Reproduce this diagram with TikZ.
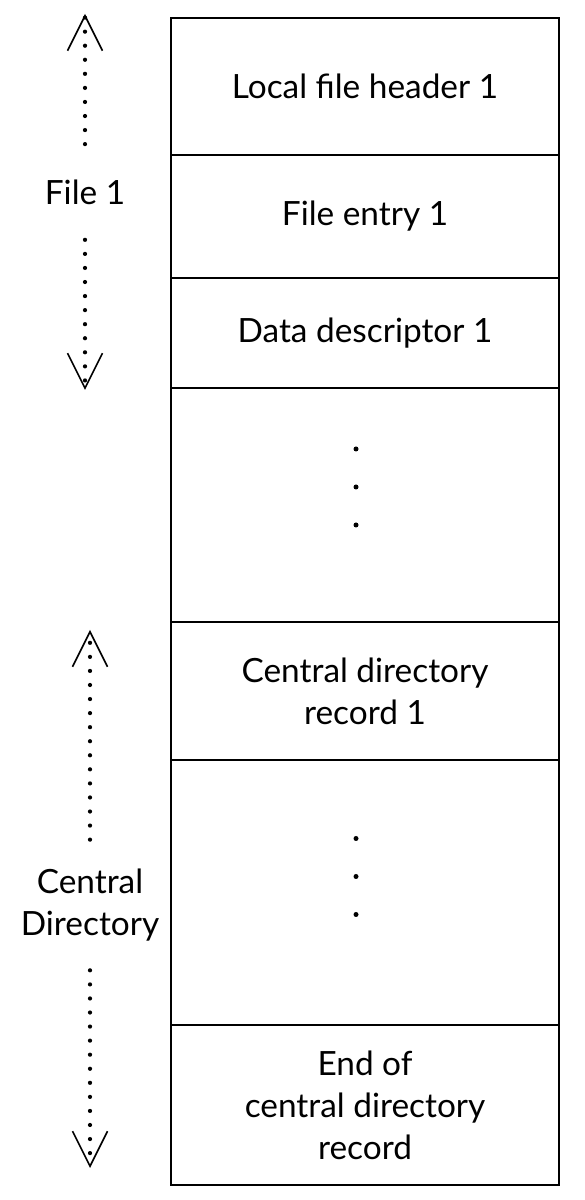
\documentclass[tikz,border=0pt]{standalone}
\usepackage{fontspec}
\setmainfont{Lato}
\usepackage{tikz}
\usetikzlibrary{arrows.meta,positioning,calc}
\tikzset{every node/.append style={align=center}}

\begin{document}
\begin{tikzpicture}[
    row/.style={draw, line width=1pt, minimum width=7.76cm, outer sep=0pt, font=\fontsize{19}{24}\selectfont},
    side/.style={font=\fontsize{19}{24}\selectfont, minimum height=1.9cm},
    dotline/.style={line width=2.4pt, line cap=round, dash pattern=on 0pt off 8pt,
        -{Straight Barb[length=7mm, width=7mm, line width=0.9pt]}},
    dot/.style={fill, circle, inner sep=0pt, minimum size=0.1cm}
]
    \useasboundingbox (0,0) rectangle (11.68,24);

    % ZIP layout, top to bottom
    \node[row, minimum height=2.74cm] (header) at (7.30, 22.27) {Local file header 1};
    \node[row, minimum height=2.46cm, below=0pt of header] (entry) {File entry 1};
    \node[row, minimum height=2.20cm, below=0pt of entry] (descriptor) {Data descriptor 1};
    \node[row, minimum height=4.68cm, below=0pt of descriptor] (gapone) {};
    \node[row, minimum height=2.76cm, below=0pt of gapone] (cdrecord) {Central directory\\record 1};
    \node[row, minimum height=5.30cm, below=0pt of cdrecord] (gaptwo) {};
    \node[row, minimum height=3.20cm, below=0pt of gaptwo] (eocd) {End of\\central directory\\record};

    % ellipsis dots
    \foreach \dy in {1.12,0.36,-0.40} {
        \node[dot] at ($(gapone.center)+(-0.18,\dy)$) {};
        \node[dot] at ($(gaptwo.center)+(-0.18,\dy-0.04)$) {};
    }

    % File 1 span
    \node[side] (fileone) at (1.70, 20.16) {File 1};
    \coordinate (fonetop) at (1.70, 23.72);
    \coordinate (fonebot) at (1.70, 16.20);
    \draw[dotline] (fileone.north) -- (fonetop);
    \draw[dotline] (fileone.south) -- (fonebot);

    % Central directory span
    \node[side, minimum height=2.6cm] (centraldir) at (1.80, 5.90) {Central\\Directory};
    \coordinate (cdtop) at (1.80, 11.40);
    \coordinate (cdbot) at (1.80, 0.64);
    \draw[dotline] (centraldir.north) -- (cdtop);
    \draw[dotline] (centraldir.south) -- (cdbot);

\end{tikzpicture}
\end{document}
